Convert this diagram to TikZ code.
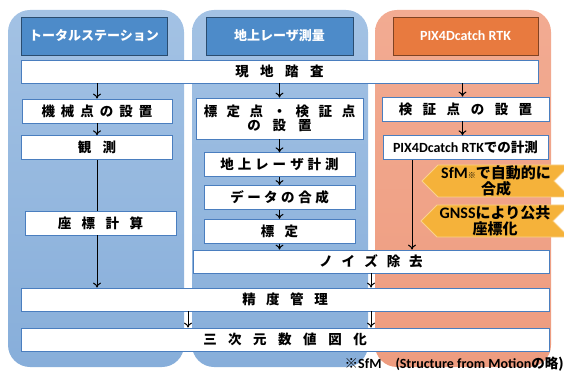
\documentclass[tikz,border=0pt]{standalone}
\usepackage{fontspec}
\setmainfont{Noto Sans CJK JP}
\newfontfamily\lat{Carlito}[UprightFont={* Bold}, BoldFont={* Bold}]
\usetikzlibrary{shapes.symbols, positioning, arrows.meta}

\definecolor{panelblueTop}{HTML}{A3C2E4}
\definecolor{panelblueBot}{HTML}{87AEDA}
\definecolor{panelredTop}{HTML}{F2AB92}
\definecolor{panelredBot}{HTML}{EE9C7F}
\definecolor{headblue}{HTML}{4D8BC9}
\definecolor{headorange}{HTML}{E87A3F}
\definecolor{boxline}{HTML}{4A7EBF}
\definecolor{notefill}{HTML}{F5B23A}
\definecolor{noteline}{HTML}{FAD28C}

% letter spacing for the Japanese labels
\def\lspgobble#1{}
\newcommand\lsp[2]{\def\lspgap{#1}\lspiter#2\relax}
\def\lspiter#1#2{#1\ifx\relax#2\expandafter\lspgobble\else\kern\lspgap\relax\expandafter\lspiter\fi#2}

\begin{document}
\begin{tikzpicture}[x=1pt, y=-1pt,
    panel/.style={rounded corners=22pt},
    head/.style={draw=#1!55!black, fill=#1, text=white, line width=0.8pt, minimum width=146pt, minimum height=38pt, inner sep=0pt, font=\fontsize{13}{15}\selectfont\bfseries},
    box/.style={draw=boxline, fill=white, line width=0.75pt, minimum height=24pt, inner sep=0pt, align=center, font=\fontsize{13.5}{16}\selectfont\bfseries},
    note/.style={signal, signal to=west, signal from=east, draw=noteline, fill=notefill, line width=0.8pt, minimum width=148pt, minimum height=32pt, inner sep=0pt, align=center, font=\fontsize{15}{17}\selectfont\bfseries},
    arr/.style={-{To[length=5pt, width=8pt]}, line width=1pt}]
    \useasboundingbox (0,0) rectangle (564,371);

    % Panels
    \path[panel, top color=panelblueTop, bottom color=panelblueBot] (8,10) rectangle (184,367);
    \path[panel, top color=panelblueTop, bottom color=panelblueBot] (192,10) rectangle (368,367);
    \path[panel, top color=panelredTop, bottom color=panelredBot] (375,10) rectangle (551,367);

    % Nodes
    \node [head=headblue] (ts) at (94,36) {トータルステーション};
    \node [head=headblue, minimum width=147pt] (tls) at (279.5,36) {地上レーザ測量};
    \node [head=headorange, minimum width=145pt] (pix4d) at (465.5,36) {\lat\fontsize{14}{16}\selectfont PIX4Dcatch RTK};

    \node [box, minimum width=517pt, minimum height=23pt] (genchi) at (279.5,71.5) {\lsp{11.5pt}{現地踏査}};

    \node [box, minimum width=150pt] (kikai) at (97,111) {\lsp{6pt}{機械点の設置}};
    \node [box, minimum width=151pt, below=12pt of kikai] (kansoku) {\lsp{11.5pt}{観測}};
    \node [box, minimum width=151pt] (zahyo) at (100.5,223) {\lsp{10.5pt}{座標計算}};

    \node [box, minimum width=167pt, minimum height=41pt] (hyoteiten) at (279.5,118.5) {\lsp{9.5pt}{標定点・検証点}\\[-2pt]\lsp{12pt}{の設置}};
    \node [box, minimum width=151pt, below=13pt of hyoteiten] (laser) {\lsp{4pt}{地上レーザ計測}};
    \node [box, minimum width=151pt, below=8pt of laser] (gousei) {\lsp{3.5pt}{データの合成}};
    \node [box, minimum width=151pt, below=9pt of gousei] (hyotei) {\lsp{10.5pt}{標定}};

    \node [box, minimum width=167pt] (kensho) at (465.5,109) {\lsp{10.5pt}{検証点の設置}};
    \node [box, minimum width=165pt, below=14pt of kensho] (keisoku) {{\lat\fontsize{14}{16}\selectfont PIX4Dcatch RTK}での計測};
    \node [note] (sfm) at (496,181) {{\lat\fontsize{16}{17}\selectfont SfM}{\fontsize{8}{8}\selectfont ※}で自動的に\\[-1pt]合成};
    \node [note] (gnss) at (495,221) {{\lat\fontsize{16}{17}\selectfont GNSS}により公共\\[-1pt]座標化};

    \node [box, minimum width=356pt, minimum height=23pt] (noise) at (371,261.5) {\lsp{9pt}{ノイズ除去}};
    \node [box, minimum width=528pt, minimum height=23pt] (seido) at (285,299.5) {\lsp{10.5pt}{精度管理}};
    \node [box, minimum width=528pt, minimum height=23pt] (sanji) at (285,339.5) {\lsp{11.5pt}{三次元数値図化}};

    \node [anchor=east, inner sep=0pt, font=\fontsize{13.5}{15}\selectfont\bfseries] (chu) at (564,364) {※{\lat\fontsize{14}{15}\selectfont SfM\quad(Structure from Motion}の略)};

    % Arrows
    \draw [arr] (kikai |- genchi.south) -- (kikai);
    \draw [arr] (kikai) -- (kansoku);
    \draw [line width=1pt] (kansoku) -- (kansoku |- zahyo.north);
    \draw [arr] (kansoku |- zahyo.south) -- (kansoku |- seido.north);

    \draw [arr] (hyoteiten |- genchi.south) -- (hyoteiten);
    \draw [arr] (hyoteiten) -- (laser);
    \draw [arr] (laser) -- (gousei);
    \draw [arr] (gousei) -- (hyotei);
    \draw [arr] (hyotei) -- (hyotei |- noise.north);

    \draw [arr] ([xshift=-3pt]kensho.north |- genchi.south) -- ([xshift=-3pt]kensho.north);
    \draw [arr] ([xshift=-3pt]kensho.south) -- ([xshift=-3pt]kensho.south |- keisoku.north);
    \draw [arr] ([xshift=-53.5pt]keisoku.south) -- ([xshift=-53.5pt]keisoku.south |- noise.north);

    \draw [arr] (noise) -- (noise |- seido.north);
    \draw [arr] ([xshift=-97pt]seido.south) -- ([xshift=-97pt]seido.south |- sanji.north);
    \draw [arr] (noise |- seido.south) -- (noise |- sanji.north);
\end{tikzpicture}
\end{document}
